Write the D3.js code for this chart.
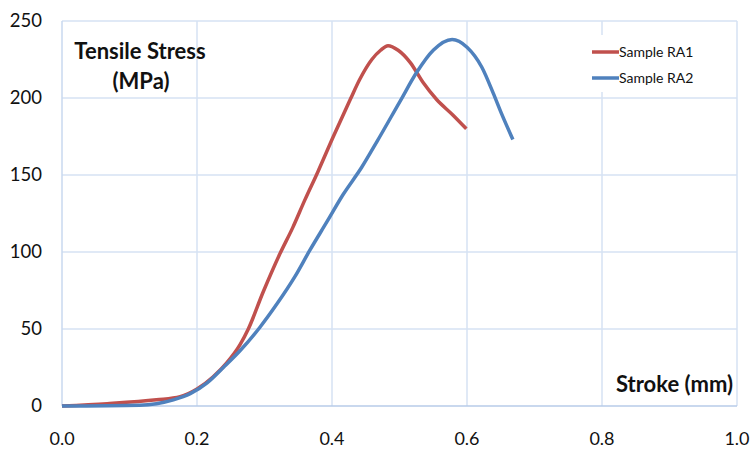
<!DOCTYPE html>
<html>
<head>
<meta charset="utf-8">
<title>Tensile Stress vs Stroke</title>
<script src="https://cdn.jsdelivr.net/npm/d3@7"></script>
<style>
  body { margin: 0; background: #fff; }
  text { font-family: Lato, "Open Sans", sans-serif; fill: #111; }
</style>
</head>
<body>
<svg width="752" height="450"></svg>
<script>
// values
var ra1Stroke = [0, 0.067, 0.14, 0.175, 0.2, 0.224, 0.244, 0.264, 0.276, 0.298, 0.323, 0.342, 0.36, 0.379, 0.402, 0.427, 0.441, 0.459, 0.472, 0.483, 0.498, 0.516, 0.535, 0.555, 0.579, 0.599];
var ra1Stress = [0, 1.5, 4, 6, 11, 19, 28, 40, 50, 74, 99, 116, 134, 152, 175, 199, 212, 225, 231, 234, 231, 223, 210, 199, 189, 180];
var ra2Stroke = [0, 0.115, 0.165, 0.19, 0.215, 0.239, 0.264, 0.293, 0.318, 0.345, 0.367, 0.393, 0.416, 0.444, 0.467, 0.501, 0.526, 0.55, 0.578, 0.6, 0.622, 0.639, 0.651, 0.668];
var ra2Stress = [0, 0.5, 4, 8, 15, 25, 36, 51, 66, 84, 101, 120, 137, 155, 172, 198, 217, 231, 238, 233, 220, 203, 190, 173];
var seriesNames = ["Sample RA1", "Sample RA2"];
var seriesColors = ["#c0504d", "#4f81bd"];
var xTicks = [0, 0.2, 0.4, 0.6, 0.8, 1.0];
var yTicks = [0, 50, 100, 150, 200, 250];

var svg = d3.select("svg");
var margin = {top: 21, right: 15, bottom: 44, left: 62};
var width = +svg.attr("width") - margin.left - margin.right;
var height = +svg.attr("height") - margin.top - margin.bottom;

var x = d3.scaleLinear().domain([0, 1]).range([0, width]);
var y = d3.scaleLinear().domain([0, 250]).range([height, 0]);

var g = svg.append("g").attr("transform", "translate(" + margin.left + "," + margin.top + ")");

// grid
g.append("g").selectAll("line").data(xTicks.slice(1)).enter().append("line")
  .attr("x1", function(d){ return x(d); }).attr("x2", function(d){ return x(d); })
  .attr("y1", 0).attr("y2", height)
  .attr("stroke", "#d6e2f3").attr("stroke-width", 1.5);
g.append("g").selectAll("line").data(yTicks.slice(1)).enter().append("line")
  .attr("y1", function(d){ return y(d); }).attr("y2", function(d){ return y(d); })
  .attr("x1", 0).attr("x2", width)
  .attr("stroke", "#d6e2f3").attr("stroke-width", 1.5);

// axes lines
g.append("line").attr("x1", 0).attr("x2", 0).attr("y1", 0).attr("y2", height)
  .attr("stroke", "#c9d9ef").attr("stroke-width", 1.5);
g.append("line").attr("x1", 0).attr("x2", width).attr("y1", height).attr("y2", height)
  .attr("stroke", "#b7cbe8").attr("stroke-width", 1.5);

// tick labels
g.append("g").selectAll("text").data(yTicks).enter().append("text")
  .attr("x", -20).attr("y", function(d){ return y(d); })
  .attr("dy", "0.35em").attr("text-anchor", "end")
  .style("font-size", "18.5px")
  .text(function(d){ return d; });
g.append("g").selectAll("text").data(xTicks).enter().append("text")
  .attr("x", function(d){ return x(d); }).attr("y", height + 33)
  .attr("dy", "0.35em").attr("text-anchor", "middle")
  .style("font-size", "18px")
  .text(function(d){ return d3.format(".1f")(d); });

// lines
var line = d3.line()
  .curve(d3.curveMonotoneX)
  .x(function(d){ return x(d[0]); })
  .y(function(d){ return y(d[1]); });

var series = [
  d3.zip(ra1Stroke, ra1Stress),
  d3.zip(ra2Stroke, ra2Stress)
];

g.append("g").selectAll("path").data(series).enter().append("path")
  .attr("fill", "none")
  .attr("stroke", function(d, i){ return seriesColors[i]; })
  .attr("stroke-width", 3.5)
  .attr("stroke-linejoin", "round")
  .attr("d", line);

// axis titles
g.append("text").attr("x", 78).attr("y", 38).attr("text-anchor", "middle")
  .style("font-size", "22px").style("font-weight", "bold")
  .text("Tensile Stress");
g.append("text").attr("x", 79).attr("y", 68).attr("text-anchor", "middle")
  .style("font-size", "22px").style("font-weight", "bold")
  .text("(MPa)");
g.append("text").attr("x", width - 4).attr("y", 371).attr("text-anchor", "end")
  .style("font-size", "22px").style("font-weight", "bold")
  .text("Stroke (mm)");

// legend
var legend = g.append("g").attr("transform", "translate(" + (width - 152) + ",14)");
legend.append("rect").attr("width", 150).attr("height", 57).attr("fill", "#fff");
var item = legend.selectAll("g").data(seriesNames).enter().append("g")
  .attr("transform", function(d, i){ return "translate(0," + (17 + i * 26) + ")"; });
item.append("line").attr("x1", 7).attr("x2", 34)
  .attr("stroke", function(d, i){ return seriesColors[i]; })
  .attr("stroke-width", 3.5);
item.append("text").attr("x", 34).attr("dy", "0.35em")
  .style("font-size", "14px")
  .text(function(d){ return d; });
</script>
</body>
</html>
